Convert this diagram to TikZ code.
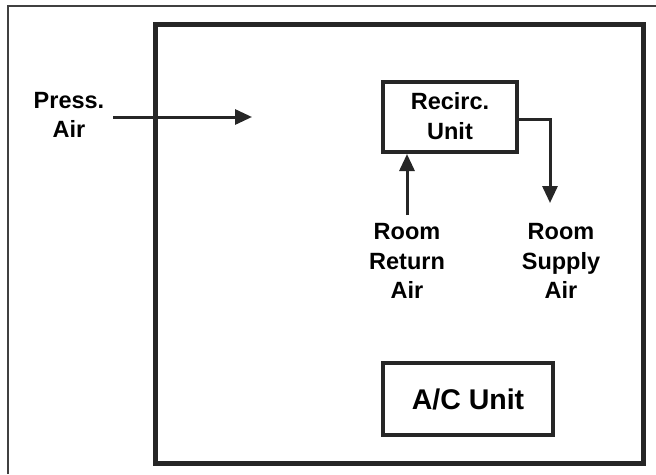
\documentclass[tikz,border=0pt]{standalone}
\usepackage{fontspec}
\setmainfont{Liberation Sans}
\usetikzlibrary{arrows.meta}
\begin{document}
\begin{tikzpicture}[x=1pt,y=-1pt,
  lbl/.style={font=\bfseries\fontsize{23.5}{29.5}\selectfont, align=center, inner sep=0pt},
  unitbox/.style={draw=black!85, line width=4pt, inner sep=0pt},
  flow/.style={draw=black!85, line width=3pt, -{Triangle[length=17pt,width=15pt]}}]
\useasboundingbox (0,0) rectangle (656,474);
\fill[white] (0,0) rectangle (656,474);
\draw[black!75, line width=1.5pt] (8,474) -- (8,6) -- (656,6);
\draw[black!85, line width=5pt] (155,24) rectangle (643,463);
\node[unitbox, minimum width=134pt, minimum height=70pt] (recirc) at (450,117) {};
\node[lbl] (recirctxt) at (450,116) {Recirc.\\Unit};
\node[unitbox, minimum width=170pt, minimum height=72pt] (ac) at (468,399) {};
\node[lbl, font=\bfseries\fontsize{28.5}{32}\selectfont] (actxt) at (468,399) {A/C Unit};
\node[lbl] (press) at (69,115) {Press.\\Air};
\coordinate (pressstart) at (113,117);
\coordinate (pressend) at (252,117);
\draw[flow] (pressstart) -- (pressend);
\node[lbl] (ret) at (407,261) {Room\\Return\\Air};
\node[lbl] (sup) at (561,261) {Room\\Supply\\Air};
\coordinate (retstart) at (407,215);
\draw[flow] (retstart) -- (recirc.south -| retstart);
\coordinate (supend) at (550,203);
\draw[flow] (recirc.east |- 0,119) -| (supend);
\end{tikzpicture}
\end{document}
